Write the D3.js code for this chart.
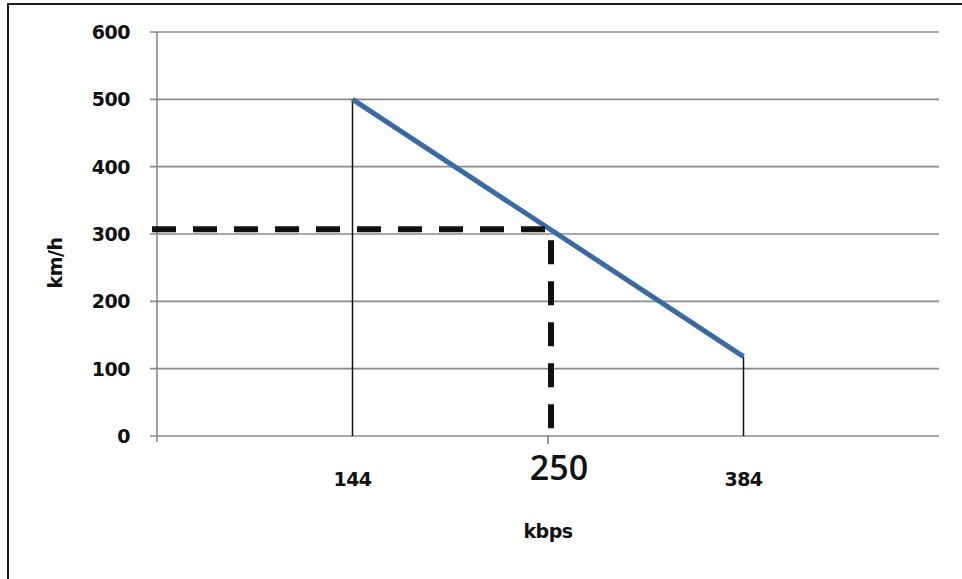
<!DOCTYPE html>
<html>
<head>
<meta charset="utf-8">
<script src="https://cdn.jsdelivr.net/npm/d3@7"></script>
<style>
  html, body { margin: 0; padding: 0; background: #fff; }
  svg { display: block; }
</style>
</head>
<body>
<svg id="chart" width="962" height="579"></svg>
<script>
// ---- data ----
const xLabels = ["144", "250", "384"];          // category labels on the x axis
const xPositions = [1, 2, 3];                     // category slots
const speedValues = [500, 118];                   // km/h at 144 and 384 kbps
const speedSlots = [1, 3];
const markerSlot = 2;                             // 250 kbps
const markerValue = 307;                          // km/h read at 250 kbps
const yTicks = [0, 100, 200, 300, 400, 500, 600];
const yTitle = "km/h";
const xTitle = "kbps";

const svg = d3.select("#chart");
const labelFont = "DejaVu Sans, Verdana, sans-serif";
const labelSize = 19;

// outer frame (cropped on the right and bottom)
svg.append("rect")
  .attr("x", 8).attr("y", 4).attr("width", 1000).attr("height", 700)
  .attr("fill", "#fff").attr("stroke", "#1a1a1a").attr("stroke-width", 2);

const x = d3.scaleLinear().domain([0, 4]).range([157, 939]);
const y = d3.scaleLinear().domain([0, 600]).range([436, 32]);

// gridlines
svg.append("g")
  .selectAll("line").data(yTicks).join("line")
  .attr("x1", x(0) - 7).attr("x2", x(4))
  .attr("y1", d => y(d)).attr("y2", d => y(d))
  .attr("stroke", "#8a8a8a").attr("stroke-width", 1.6);

// y axis line
svg.append("line")
  .attr("x1", x(0)).attr("x2", x(0))
  .attr("y1", y(600)).attr("y2", y(0) + 6)
  .attr("stroke", "#8a8a8a").attr("stroke-width", 1.6);

// y tick labels
svg.append("g")
  .selectAll("text").data(yTicks).join("text")
  .attr("x", 130).attr("y", d => y(d))
  .attr("dy", "0.36em")
  .attr("text-anchor", "end")
  .attr("font-family", labelFont)
  .attr("font-weight", "bold")
  .attr("font-size", labelSize)
  .attr("letter-spacing", -0.5)
  .attr("fill", "#111")
  .text(d => d);

// small x tick under the 250 slot
svg.append("line")
  .attr("x1", x(markerSlot)).attr("x2", x(markerSlot))
  .attr("y1", y(0)).attr("y2", y(0) + 8)
  .attr("stroke", "#555").attr("stroke-width", 1.2);

// vertical drop lines from the data ends
svg.append("g")
  .selectAll("line").data(speedSlots.map((s, i) => [s, speedValues[i]])).join("line")
  .attr("x1", d => x(d[0])).attr("x2", d => x(d[0]))
  .attr("y1", d => y(d[1])).attr("y2", y(0))
  .attr("stroke", "#111").attr("stroke-width", 1.5);

// data line
const line = d3.line().x(d => x(d[0])).y(d => y(d[1]));
svg.append("path")
  .datum(speedSlots.map((s, i) => [s, speedValues[i]]))
  .attr("d", line)
  .attr("fill", "none")
  .attr("stroke", "#3a6aa3")
  .attr("stroke-width", 5);

// dashed reference lines
svg.append("path")
  .datum([[x(0) - 5, y(markerValue)], [x(markerSlot) + 3, y(markerValue)], [x(markerSlot) + 3, y(0) - 6]])
  .attr("d", d3.line())
  .attr("fill", "none")
  .attr("stroke", "#111")
  .attr("stroke-width", 6)
  .attr("stroke-dasharray", "24,17");

// x tick labels
svg.append("g")
  .selectAll("text").data(xLabels).join("text")
  .attr("x", (d, i) => x(xPositions[i]) + (i === 1 ? 11 : 0))
  .attr("y", (d, i) => i === 1 ? 480 : 486)
  .attr("text-anchor", "middle")
  .attr("font-family", (d, i) => i === 1 ? "Open Sans, sans-serif" : labelFont)
  .attr("font-weight", (d, i) => i === 1 ? 600 : "bold")
  .attr("font-size", (d, i) => i === 1 ? 34 : labelSize)
  .attr("letter-spacing", (d, i) => i === 1 ? 0 : -0.5)
  .attr("fill", "#111")
  .text(d => d);

// axis titles
svg.append("text")
  .attr("x", x(markerSlot)).attr("y", 538)
  .attr("text-anchor", "middle")
  .attr("font-family", labelFont)
  .attr("font-weight", "bold")
  .attr("font-size", labelSize)
  .attr("letter-spacing", -0.5)
  .attr("fill", "#111")
  .text(xTitle);

svg.append("text")
  .attr("transform", "translate(62,263) rotate(-90)")
  .attr("text-anchor", "middle")
  .attr("font-family", labelFont)
  .attr("font-weight", "bold")
  .attr("font-size", labelSize)
  .attr("letter-spacing", -0.5)
  .attr("fill", "#111")
  .text(yTitle);
</script>
</body>
</html>
